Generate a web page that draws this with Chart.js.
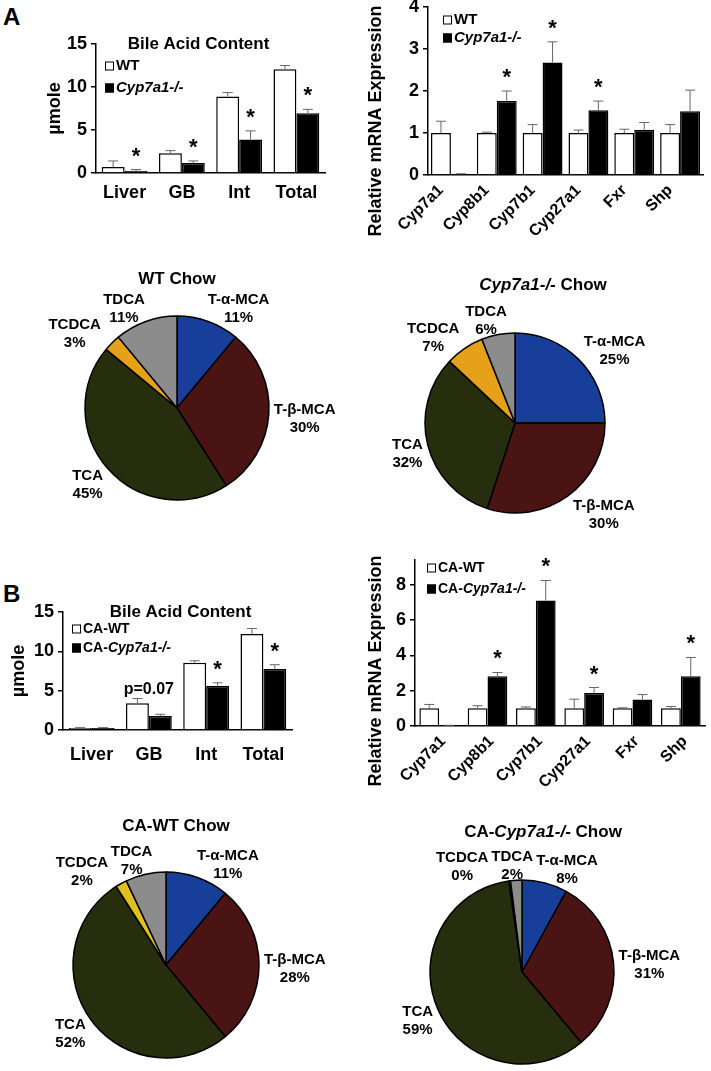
<!DOCTYPE html>
<html>
<head>
<meta charset="utf-8">
<script src="https://cdn.jsdelivr.net/npm/chart.js@4.4.1/dist/chart.umd.min.js"></script>
<style>
  body { margin: 0; background: #fff; }
  #page { position: relative; width: 711px; height: 1071px; overflow: hidden; }
  #page canvas { position: absolute; }
  .letter { position: absolute; left: 3px; font: bold 24px "Liberation Sans", Arial, sans-serif; line-height: 1; }
</style>
</head>
<body>
<div id="page">
  <div class="letter" style="top:5px">A</div>
  <div class="letter" style="top:582px">B</div>
  <canvas id="poolA"></canvas>
  <canvas id="mrnaA"></canvas>
  <canvas id="pieWT"></canvas>
  <canvas id="pieKO"></canvas>
  <canvas id="poolB"></canvas>
  <canvas id="mrnaB"></canvas>
  <canvas id="pieCAWT"></canvas>
  <canvas id="pieCAKO"></canvas>
</div>
<script>
// ---- data ----
const tissues = ["Liver", "GB", "Int", "Total"];
const genes = ["Cyp7a1", "Cyp8b1", "Cyp7b1", "Cyp27a1", "Fxr", "Shp"];
const ticksPool = [0, 5, 10, 15];
const ticksMrnaA = [0, 1, 2, 3, 4];
const ticksMrnaB = [0, 2, 4, 6, 8];

// A: chow
const poolWT = [0.7, 2.3, 8.9, 12.05];
const poolWTSem = [0.7, 0.3, 0.45, 0.45];
const poolKO = [0.25, 1.15, 3.9, 6.95];
const poolKOSem = [0.15, 0.25, 1.0, 0.45];
const poolSig = ["*", "*", "*", "*"];

const mrnaWT = [1, 1, 1, 1, 1, 1];
const mrnaWTSem = [0.28, 0.02, 0.2, 0.07, 0.09, 0.2];
const mrnaKO = [0.02, 1.76, 2.68, 1.54, 1.08, 1.52];
const mrnaKOSem = [0.01, 0.24, 0.49, 0.22, 0.17, 0.5];
const mrnaSig = ["", "*", "*", "*", "", ""];

// B: cholic acid fed
const caPoolWT = [0.25, 3.4, 8.55, 12.2];
const caPoolWTSem = [0.05, 0.6, 0.25, 0.7];
const caPoolKO = [0.25, 1.78, 5.63, 7.75];
const caPoolKOSem = [0.05, 0.22, 0.37, 0.55];
const caPoolSig = ["", "p=0.07", "*", "*"];

const caMrnaWT = [1, 1, 1, 1, 1, 1];
const caMrnaWTSem = [0.22, 0.15, 0.08, 0.52, 0.03, 0.1];
const caMrnaKO = [0.03, 2.82, 7.1, 1.87, 1.5, 2.82];
const caMrnaKOSem = [0.01, 0.21, 1.14, 0.31, 0.28, 1.06];
const caMrnaSig = ["", "*", "*", "*", "", "*"];

// bile acid composition (% of pool)
const acids = ["T-α-MCA", "T-β-MCA", "TCA", "TCDCA", "TDCA"];
const compWT = [11, 30, 45, 3, 11];
const compKO = [25, 30, 32, 7, 6];
const compCAWT = [11, 28, 52, 2, 7];
const compCAKO = [8, 31, 59, 0.3, 2];

const acidColors = ["#173f99", "#4b1414", "#262e0d", "#e6a11a", "#8c8c8c"];
const acidColorsCA = ["#173f99", "#4b1414", "#262e0d", "#e0c020", "#8c8c8c"];

// ---- helpers ----
const FAMILY = '"Liberation Sans", Arial, sans-serif';
const font = (size, italic) => (italic ? "italic " : "") + "bold " + size + "px " + FAMILY;

function richText(ctx, parts, x, y, size, align) {
  let total = 0;
  parts.forEach(p => { ctx.font = font(size, p[1]); total += ctx.measureText(p[0]).width; });
  let cx = align === "center" ? x - total / 2 : x;
  ctx.textAlign = "left";
  parts.forEach(p => {
    ctx.font = font(size, p[1]);
    ctx.fillText(p[0], cx, y);
    cx += ctx.measureText(p[0]).width;
  });
}

function place(id, box) {
  const c = document.getElementById(id);
  c.width = box.w; c.height = box.h;
  c.style.left = box.left + "px"; c.style.top = box.top + "px";
  return c;
}

// error bars, significance marks, legend and titles for bar charts
const barExtras = {
  id: "barExtras",
  afterDatasetsDraw(chart, args, o) {
    const ctx = chart.ctx, y = chart.scales.y, a = chart.chartArea;
    ctx.save();
    ctx.strokeStyle = "#666";
    ctx.lineWidth = 1;
    chart.data.datasets.forEach((ds, d) => {
      chart.getDatasetMeta(d).data.forEach((bar, i) => {
        const top = y.getPixelForValue(ds.data[i] + o.sem[d][i]);
        ctx.beginPath();
        ctx.moveTo(bar.x, bar.y); ctx.lineTo(bar.x, top);
        ctx.moveTo(bar.x - 5, top); ctx.lineTo(bar.x + 5, top);
        ctx.stroke();
      });
    });

    ctx.fillStyle = "#000";
    o.marks.forEach((m, i) => {
      if (!m) return;
      const wt = chart.getDatasetMeta(0).data[i], ko = chart.getDatasetMeta(1).data[i];
      const tops = chart.data.datasets.map((ds, d) => y.getPixelForValue(ds.data[i] + o.sem[d][i]));
      ctx.textBaseline = "alphabetic";
      ctx.textAlign = "center";
      if (m === "*") {
        ctx.font = font(22);
        ctx.fillText(m, ko.x, tops[1] - 7);
      } else {
        ctx.font = font(16);
        ctx.fillText(m, (wt.x + ko.x) / 2, Math.min(tops[0], tops[1]) - 5);
      }
    });

    // legend
    ctx.textBaseline = "middle";
    o.legend.forEach((parts, k) => {
      const lx = a.left + o.legendDx, ly = a.top + o.legendDy + k * o.legendGap;
      ctx.fillStyle = k === 0 ? "#fff" : "#000";
      ctx.fillRect(lx, ly - 4.5, 9, 9);
      ctx.strokeStyle = "#000"; ctx.lineWidth = 1;
      ctx.strokeRect(lx + 0.5, ly - 4, 8, 8);
      ctx.fillStyle = "#000";
      richText(ctx, parts, lx + 11, ly, o.legendSize, "left");
    });

    // chart title
    if (o.title) {
      ctx.font = font(17);
      ctx.textAlign = "center";
      ctx.fillText(o.title, (a.left + a.right) / 2 + o.titleDx, a.top);
    }

    // y axis title
    ctx.translate(o.yTitleX, (a.top + a.bottom) / 2 + o.yTitleDy);
    ctx.rotate(-Math.PI / 2);
    ctx.font = font(18);
    ctx.textAlign = "center";
    ctx.fillText(o.yTitle, 0, 0);
    ctx.restore();
  }
};

function barChart(id, box, labels, wt, ko, wtSem, koSem, marks, ticks, opt) {
  const canvas = place(id, box);
  return new Chart(canvas, {
    type: "bar",
    data: {
      labels: labels,
      datasets: [
        { data: wt, backgroundColor: "#fff", borderColor: "#000", borderWidth: 1.5 },
        { data: ko, backgroundColor: "#000", borderColor: "#000", borderWidth: 1.5 }
      ]
    },
    options: {
      responsive: false,
      animation: false,
      layout: { padding: { top: opt.padTop, right: opt.padRight, left: 0, bottom: 0 } },
      datasets: { bar: { categoryPercentage: opt.catPct, barPercentage: 1 } },
      plugins: {
        legend: { display: false },
        tooltip: { enabled: false },
        barExtras: {
          sem: [wtSem, koSem], marks: marks, legend: opt.legend, legendSize: opt.legendSize,
          legendDx: opt.legendDx, legendDy: opt.legendDy, legendGap: opt.legendGap,
          title: opt.title, titleDx: opt.titleDx || 0,
          yTitle: opt.yTitle, yTitleX: opt.yTitleX, yTitleDy: opt.yTitleDy || 0
        }
      },
      scales: {
        x: {
          grid: { display: false, drawTicks: false },
          border: { display: true, color: "#000", width: 1.5 },
          ticks: {
            color: "#000", font: { family: FAMILY, weight: "bold", size: opt.xFont },
            padding: opt.xPad, maxRotation: opt.rot, minRotation: opt.rot, labelOffset: opt.labelOffset || 0,
            autoSkip: false
          },
          afterFit: s => { s.height = opt.xH; }
        },
        y: {
          min: 0, max: opt.max, bounds: "data",
          afterBuildTicks: s => { s.ticks = ticks.map(v => ({ value: v })); },
          ticks: { color: "#000", font: { family: FAMILY, weight: "bold", size: 18 }, padding: 4, callback: v => v },
          grid: { drawOnChartArea: false, drawTicks: true, tickLength: 5, color: "#000", lineWidth: 1.5 },
          border: { display: true, color: "#000", width: 1.5 },
          afterFit: s => { s.width = opt.yW; }
        }
      }
    },
    plugins: [barExtras]
  });
}

// slice labels and title for the pies
const pieExtras = {
  id: "pieExtras",
  afterDatasetsDraw(chart, args, o) {
    const ctx = chart.ctx;
    const meta = chart.getDatasetMeta(0);
    const vals = chart.data.datasets[0].data;
    ctx.save();
    ctx.fillStyle = "#000";
    ctx.font = font(15);
    ctx.textAlign = "center";
    ctx.textBaseline = "middle";
    const lh = 18, h = 36, boxes = [];
    for (let i = meta.data.length - 1; i >= 0; i--) {
      const arc = meta.data[i];
      const mid = (arc.startAngle + arc.endAngle) / 2;
      const c = Math.cos(mid), s = Math.sin(mid);
      const lines = [chart.data.labels[i], Math.round(vals[i]) + "%"];
      const w = Math.max(...lines.map(t => ctx.measureText(t).width));
      let x = arc.x + c * arc.outerRadius + Math.sign(c) * Math.min(1, Math.abs(c) * 2.5) * (w / 2 + 5);
      const yy = arc.y + s * arc.outerRadius + s * h / 2 + 4;
      const dir = c < 0 ? -1 : 1;
      let guard = 0;
      while (guard++ < 300 && boxes.some(b => Math.abs(b.x - x) < (b.w + w) / 2 + 2 && Math.abs(b.y - yy) < h)) x += dir;
      boxes.push({ x: x, y: yy, w: w });
      ctx.fillText(lines[0], x, yy - lh / 2);
      ctx.fillText(lines[1], x, yy + lh / 2);
    }
    richText(ctx, o.title, chart.width / 2, o.titleY, 17, "center");
    ctx.restore();
  }
};

function pieChart(id, box, values, colors, title) {
  const canvas = place(id, box);
  return new Chart(canvas, {
    type: "pie",
    data: {
      labels: acids,
      datasets: [{ data: values, backgroundColor: colors, borderColor: "#000", borderWidth: 1.5, radius: box.r }]
    },
    options: {
      responsive: false,
      animation: false,
      layout: {
        padding: {
          left: box.cx - box.r - box.left,
          right: box.left + box.w - box.cx - box.r,
          top: box.cy - box.r - box.top,
          bottom: box.top + box.h - box.cy - box.r
        }
      },
      plugins: {
        legend: { display: false },
        tooltip: { enabled: false },
        pieExtras: { title: title, titleY: box.titleY - box.top }
      }
    },
    plugins: [pieExtras]
  });
}

// ---- panel A ----
barChart("poolA", { left: 0, top: 20, w: 340, h: 195 }, tissues, poolWT, poolKO, poolWTSem, poolKOSem, poolSig, ticksPool, {
  max: 15, yW: 96, padTop: 24, padRight: 15, xH: 42, catPct: 0.8, xFont: 18, xPad: 9, rot: 0,
  legend: [[["WT", false]], [["Cyp7a1-/-", true]]], legendSize: 15, legendDx: 9, legendDy: 22, legendGap: 22,
  title: "Bile Acid Content", titleDx: -12, yTitle: "µmole", yTitleX: 55
});

barChart("mrnaA", { left: 355, top: -20, w: 356, h: 280 }, genes, mrnaWT, mrnaKO, mrnaWTSem, mrnaKOSem, mrnaSig, ticksMrnaA, {
  max: 4, yW: 73, padTop: 27, padRight: 8, xH: 85, catPct: 0.87, xFont: 16, xPad: 6, rot: 45, labelOffset: -10,
  legend: [[["WT", false]], [["Cyp7a1-/-", true]]], legendSize: 15, legendDx: 15, legendDy: 13, legendGap: 18,
  yTitle: "Relative mRNA Expression", yTitleX: 21, yTitleDy: 30
});

pieChart("pieWT", { left: 0, top: 260, w: 354, h: 280, cx: 177, cy: 408, r: 92, titleY: 279 },
  compWT, acidColors, [["WT Chow", false]]);
pieChart("pieKO", { left: 375, top: 260, w: 336, h: 280, cx: 515, cy: 423, r: 90, titleY: 285 },
  compKO, acidColors, [["Cyp7a1-/-", true], [" Chow", false]]);

// ---- panel B ----
barChart("poolB", { left: 0, top: 580, w: 310, h: 190 }, tissues, caPoolWT, caPoolKO, caPoolWTSem, caPoolKOSem, caPoolSig, ticksPool, {
  max: 15, yW: 63, padTop: 32, padRight: 18, xH: 40, catPct: 0.8, xFont: 18, xPad: 14, rot: 0,
  legend: [[["CA-WT", false]], [["CA-", false], ["Cyp7a1-/-", true]]], legendSize: 14, legendDx: 9, legendDy: 17, legendGap: 19,
  title: "Bile Acid Content", titleDx: 3, yTitle: "µmole", yTitleX: 19
});

barChart("mrnaB", { left: 355, top: 530, w: 356, h: 280 }, genes, caMrnaWT, caMrnaKO, caMrnaWTSem, caMrnaKOSem, caMrnaSig, ticksMrnaB, {
  max: 9.4, yW: 60, padTop: 30, padRight: 6, xH: 84, catPct: 0.82, xFont: 16, xPad: 6, rot: 45, labelOffset: 4,
  legend: [[["CA-WT", false]], [["CA-", false], ["Cyp7a1-/-", true]]], legendSize: 14, legendDx: 12, legendDy: 8, legendGap: 21,
  yTitle: "Relative mRNA Expression", yTitleX: 21, yTitleDy: 28
});

pieChart("pieCAWT", { left: 0, top: 800, w: 352, h: 271, cx: 166, cy: 965, r: 93, titleY: 826 },
  compCAWT, acidColorsCA, [["CA-WT Chow", false]]);
pieChart("pieCAKO", { left: 375, top: 800, w: 336, h: 271, cx: 522, cy: 972, r: 92, titleY: 832 },
  compCAKO, acidColorsCA, [["CA-", false], ["Cyp7a1-/-", true], [" Chow", false]]);
</script>
</body>
</html>
